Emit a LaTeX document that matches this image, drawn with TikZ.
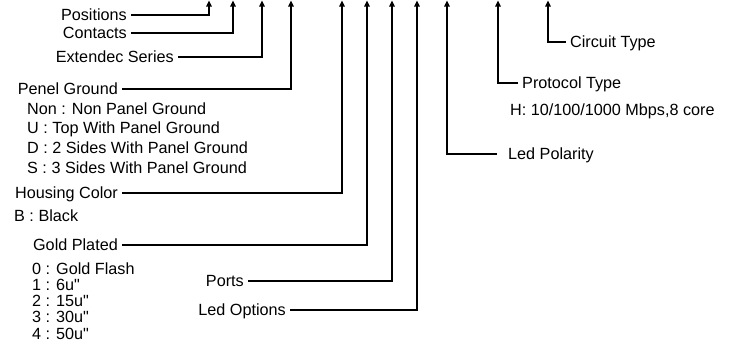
\documentclass[tikz,border=0pt]{standalone}
\usepackage{fontspec}
\setmainfont{Liberation Sans}
\usetikzlibrary{arrows.meta}
\newcommand{\partfont}{\fontsize{16.2}{19.7}\selectfont}
\newcommand{\platefont}{\fontsize{16.2}{16.25}\selectfont}
\tikzset{
  partarrow/.style={-{Triangle[length=6pt,width=5.5pt]},
    line width=1.5pt,draw=black},
  leftlabel/.style={anchor=east,inner xsep=4pt,inner ysep=0pt,
    text height=11.6pt,text depth=0pt,font=\partfont},
  rightlabel/.style={leftlabel,anchor=west},
  desclist/.style={anchor=north west,inner sep=0pt,align=left,font=\partfont},
}

\begin{document}
\begin{tikzpicture}[x=1pt,y=-1pt]
  \useasboundingbox (0,0) rectangle (731,359);
  % arrow tips along the top edge
  \coordinate (tipPos)      at (209,0.5);
  \coordinate (tipCont)     at (233,0.5);
  \coordinate (tipSeries)   at (262,0.5);
  \coordinate (tipGround)   at (291,0.5);
  \coordinate (tipColor)    at (342,0.5);
  \coordinate (tipPlate)    at (367,0.5);
  \coordinate (tipPorts)    at (392,0.5);
  \coordinate (tipLedOpt)   at (417,0.5);
  \coordinate (tipPolarity) at (447,0.5);
  \coordinate (tipProtocol) at (498,0.5);
  \coordinate (tipCircuit)  at (548,0.5);

  \node[leftlabel] (positions) at (131,15)  {Positions};
  \node[leftlabel] (contacts)  at (131,33)  {Contacts};
  \node[leftlabel] (series)    at (178,57)  {Extendec Series};
  \node[leftlabel] (ground)    at (122,89)  {Penel Ground};
  \node[desclist]  (groundopt) at (27,102.2)
    {Non : Non Panel Ground\\U : Top With Panel Ground\\
     D : 2 Sides With Panel Ground\\S : 3 Sides With Panel Ground};
  \node[leftlabel] (color)     at (122,193) {Housing Color};
  \node[rightlabel,inner xsep=0pt] (coloropt) at (14,216) {B : Black};
  \node[leftlabel] (plate)     at (122,245) {Gold Plated};
  \node[desclist,font=\platefont] (plateopt) at (32,262.2)
    {0 : Gold Flash\\1 : 6u\textquotedbl\\2 : 15u\textquotedbl\\
     3 : 30u\textquotedbl\\4 : 50u\textquotedbl};
  \node[leftlabel] (ports)     at (248,281) {Ports};
  \node[leftlabel] (ledopt)    at (290,310) {Led Options};

  \node[rightlabel] (circuit)  at (566,42)  {Circuit Type};
  \node[rightlabel] (protocol) at (518,83)  {Protocol Type};
  \node[rightlabel,inner xsep=0pt] (protocolopt) at (510,110)
    {H: 10/100/1000 Mbps,8 core};
  \node[rightlabel,inner xsep=11pt] (polarity) at (497,154) {Led Polarity};

  \draw[partarrow] (positions.east) -| (tipPos);
  \draw[partarrow] (contacts.east)  -| (tipCont);
  \draw[partarrow] (series.east)    -| (tipSeries);
  \draw[partarrow] (ground.east)    -| (tipGround);
  \draw[partarrow] (color.east)     -| (tipColor);
  \draw[partarrow] (plate.east)     -| (tipPlate);
  \draw[partarrow] (ports.east)     -| (tipPorts);
  \draw[partarrow] (ledopt.east)    -| (tipLedOpt);
  \draw[partarrow] (polarity.west)  -| (tipPolarity);
  \draw[partarrow] (protocol.west)  -| (tipProtocol);
  \draw[partarrow] (circuit.west)   -| (tipCircuit);
\end{tikzpicture}
\end{document}
